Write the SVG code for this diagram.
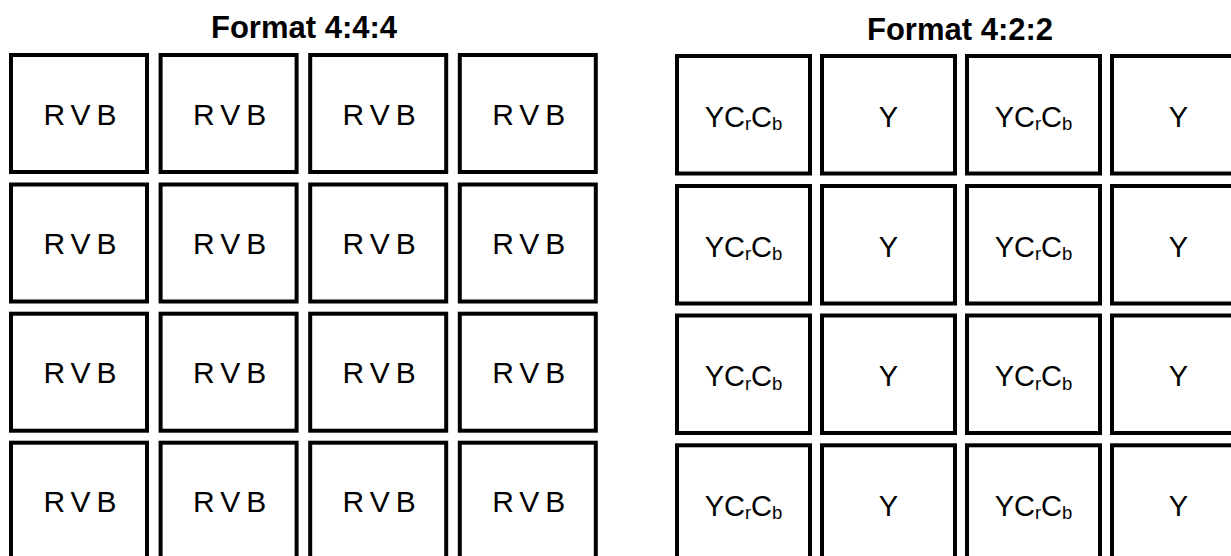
<svg xmlns="http://www.w3.org/2000/svg" width="1231" height="556" viewBox="0 0 1231 556">
<style>
.bg{fill:#ffffff}
.box{fill:#ffffff;stroke:#000000;stroke-width:4}
.title{font-family:"Liberation Sans",Arial,sans-serif;font-weight:bold;font-size:31px;fill:#000;text-anchor:middle}
.rvb{font-family:"Liberation Sans",Arial,sans-serif;font-size:30px;fill:#000;text-anchor:middle;letter-spacing:6px}
.ycc{font-family:"Liberation Sans",Arial,sans-serif;font-size:29px;fill:#000;text-anchor:middle}
.sub{font-size:18.5px}
</style>
<rect class="bg" x="0" y="0" width="1231" height="556"/>
<g id="titles">
<text class="title" x="304" y="38">Format 4:4:4</text>
<text class="title" x="960" y="39.5">Format 4:2:2</text>
</g>
<g id="format444">
<g id="n444_r1c1"><rect class="box" x="11" y="55" width="136" height="117"/><text class="rvb" x="83" y="124.5">RVB</text></g>
<g id="n444_r1c2"><rect class="box" x="160.6" y="55" width="136" height="117"/><text class="rvb" x="232.6" y="124.5">RVB</text></g>
<g id="n444_r1c3"><rect class="box" x="310.2" y="55" width="136" height="117"/><text class="rvb" x="382.2" y="124.5">RVB</text></g>
<g id="n444_r1c4"><rect class="box" x="459.8" y="55" width="136" height="117"/><text class="rvb" x="531.8" y="124.5">RVB</text></g>
<g id="n444_r2c1"><rect class="box" x="11" y="184.5" width="136" height="117"/><text class="rvb" x="83" y="254">RVB</text></g>
<g id="n444_r2c2"><rect class="box" x="160.6" y="184.5" width="136" height="117"/><text class="rvb" x="232.6" y="254">RVB</text></g>
<g id="n444_r2c3"><rect class="box" x="310.2" y="184.5" width="136" height="117"/><text class="rvb" x="382.2" y="254">RVB</text></g>
<g id="n444_r2c4"><rect class="box" x="459.8" y="184.5" width="136" height="117"/><text class="rvb" x="531.8" y="254">RVB</text></g>
<g id="n444_r3c1"><rect class="box" x="11" y="313.7" width="136" height="117"/><text class="rvb" x="83" y="383.2">RVB</text></g>
<g id="n444_r3c2"><rect class="box" x="160.6" y="313.7" width="136" height="117"/><text class="rvb" x="232.6" y="383.2">RVB</text></g>
<g id="n444_r3c3"><rect class="box" x="310.2" y="313.7" width="136" height="117"/><text class="rvb" x="382.2" y="383.2">RVB</text></g>
<g id="n444_r3c4"><rect class="box" x="459.8" y="313.7" width="136" height="117"/><text class="rvb" x="531.8" y="383.2">RVB</text></g>
<g id="n444_r4c1"><rect class="box" x="11" y="442.7" width="136" height="117"/><text class="rvb" x="83" y="512.2">RVB</text></g>
<g id="n444_r4c2"><rect class="box" x="160.6" y="442.7" width="136" height="117"/><text class="rvb" x="232.6" y="512.2">RVB</text></g>
<g id="n444_r4c3"><rect class="box" x="310.2" y="442.7" width="136" height="117"/><text class="rvb" x="382.2" y="512.2">RVB</text></g>
<g id="n444_r4c4"><rect class="box" x="459.8" y="442.7" width="136" height="117"/><text class="rvb" x="531.8" y="512.2">RVB</text></g>
</g>
<g id="format422">
<g id="n422_r1c1"><rect class="box" x="677" y="56" width="133" height="117.5"/><text class="ycc" x="743.5" y="126.5">YC<tspan class="sub" dy="3.5">r</tspan><tspan dy="-3.5">C</tspan><tspan class="sub" dy="3.5">b</tspan></text></g>
<g id="n422_r1c2"><rect class="box" x="822" y="56" width="133" height="117.5"/><text class="ycc" x="888.5" y="126.5">Y</text></g>
<g id="n422_r1c3"><rect class="box" x="967" y="56" width="133" height="117.5"/><text class="ycc" x="1033.5" y="126.5">YC<tspan class="sub" dy="3.5">r</tspan><tspan dy="-3.5">C</tspan><tspan class="sub" dy="3.5">b</tspan></text></g>
<g id="n422_r1c4"><rect class="box" x="1112" y="56" width="133" height="117.5"/><text class="ycc" x="1178.5" y="126.5">Y</text></g>
<g id="n422_r2c1"><rect class="box" x="677" y="186" width="133" height="117.5"/><text class="ycc" x="743.5" y="256.5">YC<tspan class="sub" dy="3.5">r</tspan><tspan dy="-3.5">C</tspan><tspan class="sub" dy="3.5">b</tspan></text></g>
<g id="n422_r2c2"><rect class="box" x="822" y="186" width="133" height="117.5"/><text class="ycc" x="888.5" y="256.5">Y</text></g>
<g id="n422_r2c3"><rect class="box" x="967" y="186" width="133" height="117.5"/><text class="ycc" x="1033.5" y="256.5">YC<tspan class="sub" dy="3.5">r</tspan><tspan dy="-3.5">C</tspan><tspan class="sub" dy="3.5">b</tspan></text></g>
<g id="n422_r2c4"><rect class="box" x="1112" y="186" width="133" height="117.5"/><text class="ycc" x="1178.5" y="256.5">Y</text></g>
<g id="n422_r3c1"><rect class="box" x="677" y="315.5" width="133" height="117.5"/><text class="ycc" x="743.5" y="386">YC<tspan class="sub" dy="3.5">r</tspan><tspan dy="-3.5">C</tspan><tspan class="sub" dy="3.5">b</tspan></text></g>
<g id="n422_r3c2"><rect class="box" x="822" y="315.5" width="133" height="117.5"/><text class="ycc" x="888.5" y="386">Y</text></g>
<g id="n422_r3c3"><rect class="box" x="967" y="315.5" width="133" height="117.5"/><text class="ycc" x="1033.5" y="386">YC<tspan class="sub" dy="3.5">r</tspan><tspan dy="-3.5">C</tspan><tspan class="sub" dy="3.5">b</tspan></text></g>
<g id="n422_r3c4"><rect class="box" x="1112" y="315.5" width="133" height="117.5"/><text class="ycc" x="1178.5" y="386">Y</text></g>
<g id="n422_r4c1"><rect class="box" x="677" y="445.3" width="133" height="117.5"/><text class="ycc" x="743.5" y="515.8">YC<tspan class="sub" dy="3.5">r</tspan><tspan dy="-3.5">C</tspan><tspan class="sub" dy="3.5">b</tspan></text></g>
<g id="n422_r4c2"><rect class="box" x="822" y="445.3" width="133" height="117.5"/><text class="ycc" x="888.5" y="515.8">Y</text></g>
<g id="n422_r4c3"><rect class="box" x="967" y="445.3" width="133" height="117.5"/><text class="ycc" x="1033.5" y="515.8">YC<tspan class="sub" dy="3.5">r</tspan><tspan dy="-3.5">C</tspan><tspan class="sub" dy="3.5">b</tspan></text></g>
<g id="n422_r4c4"><rect class="box" x="1112" y="445.3" width="133" height="117.5"/><text class="ycc" x="1178.5" y="515.8">Y</text></g>
</g>
<g id="connectors"></g>
</svg>
